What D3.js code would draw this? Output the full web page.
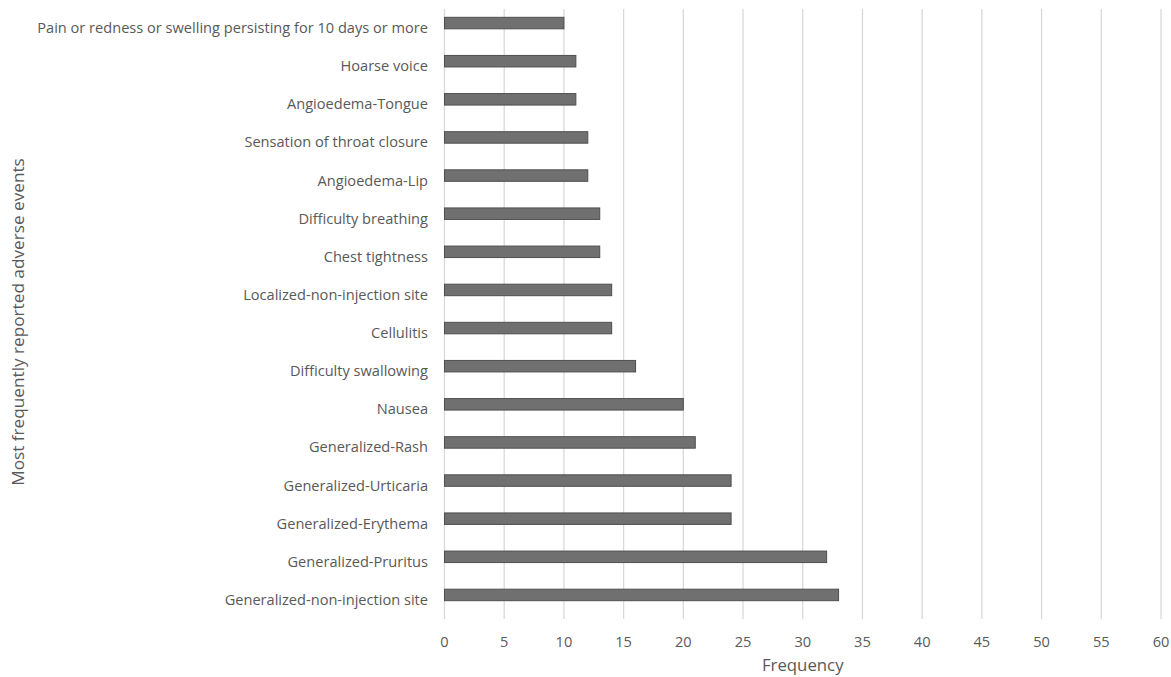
<!DOCTYPE html>
<html>
<head>
<meta charset="utf-8">
<script src="https://cdn.jsdelivr.net/npm/d3@7"></script>
<style>
  html, body { margin: 0; padding: 0; background: #fff; }
  svg { display: block; }
  text { font-family: "Open Sans", "Noto Sans", sans-serif; fill: #595959; }
</style>
</head>
<body>
<svg id="chart" width="1171" height="677"></svg>
<script>
const categories = [
  "Pain or redness or swelling persisting for 10 days or more",
  "Hoarse voice",
  "Angioedema-Tongue",
  "Sensation of throat closure",
  "Angioedema-Lip",
  "Difficulty breathing",
  "Chest tightness",
  "Localized-non-injection site",
  "Cellulitis",
  "Difficulty swallowing",
  "Nausea",
  "Generalized-Rash",
  "Generalized-Urticaria",
  "Generalized-Erythema",
  "Generalized-Pruritus",
  "Generalized-non-injection site"
];
const frequency = [10, 11, 11, 12, 12, 13, 13, 14, 14, 16, 20, 21, 24, 24, 32, 33];
const xTicks = [0, 5, 10, 15, 20, 25, 30, 35, 40, 45, 50, 55, 60];
const xTitle = "Frequency";
const yTitle = "Most frequently reported adverse events";

(function () {
const svg = d3.select("#chart");
const pLeft = 444.5, pRight = 1161, pTop = 9, pBottom = 619;

const x = d3.scaleLinear().domain([0, 60]).range([pLeft, pRight]);
const y = d3.scaleBand().domain(categories).range([4, 614]).paddingInner(0.7).paddingOuter(0.35);
const barH = 11.5;

// gridlines
svg.append("g").selectAll("line").data(xTicks).join("line")
  .attr("x1", d => x(d)).attr("x2", d => x(d))
  .attr("y1", pTop).attr("y2", pBottom)
  .attr("stroke", "#d9d9d9").attr("stroke-width", 1.3);

// bars
svg.append("g").selectAll("rect").data(frequency).join("rect")
  .attr("x", x(0))
  .attr("y", (d, i) => y(categories[i]) + y.bandwidth() / 2 - barH / 2)
  .attr("width", d => x(d) - x(0))
  .attr("height", barH)
  .attr("fill", "#707070")
  .attr("stroke", "#4f4f4f")
  .attr("stroke-width", 1);

// category labels
svg.append("g").selectAll("text").data(categories).join("text")
  .attr("x", 428)
  .attr("y", d => y(d) + y.bandwidth() / 2 + 10)
  .attr("text-anchor", "end")
  .style("font-size", "14.6px")
  .text(d => d);

// x tick labels
svg.append("g").selectAll("text").data(xTicks).join("text")
  .attr("x", d => x(d))
  .attr("y", 647)
  .attr("text-anchor", "middle")
  .style("font-size", "14.6px")
  .text(d => d);

// axis titles
svg.append("text")
  .attr("x", (pLeft + pRight) / 2).attr("y", 671)
  .attr("text-anchor", "middle")
  .style("font-size", "16.8px")
  .text(xTitle);

svg.append("text")
  .attr("transform", "translate(18,322) rotate(-90)")
  .attr("dy", "0.35em")
  .attr("text-anchor", "middle")
  .style("font-size", "17.2px")
  .text(yTitle);
})();
</script>
</body>
</html>
